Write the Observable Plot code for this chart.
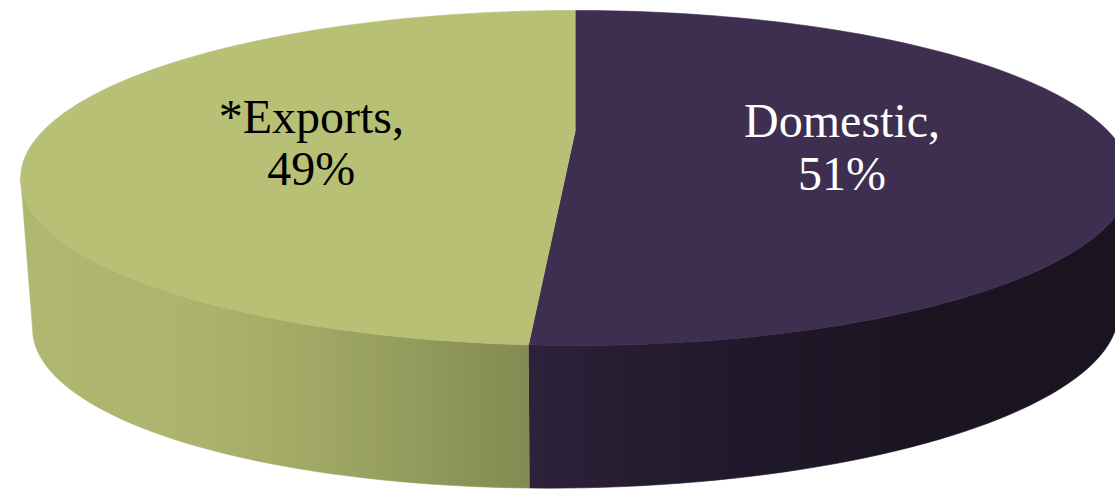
<!DOCTYPE html>
<html>
<head>
<meta charset="utf-8">
<script src="https://cdn.jsdelivr.net/npm/d3@7"></script>
<script src="https://cdn.jsdelivr.net/npm/@observablehq/plot@0.6"></script>
<style>
  html, body { margin: 0; padding: 0; background: #ffffff; overflow: hidden; }
  #chart svg { display: block; }
</style>
</head>
<body>
<div id="chart"></div>
<script>
// ---- data ----
const categories = ["Domestic", "*Exports"];
const shares = [51, 49];

// ---- styles ----
const topColors = ["#3e2e50", "#b7c075"];
const sideGradients = [
  {id: "sideDomestic", from: 528, to: 1115, stops: [[0, "#2d223a"], [0.17, "#271d32"], [0.4, "#1f1829"], [0.65, "#1b1522"], [1, "#1a1420"]]},
  {id: "sideExports", from: 20, to: 528, stops: [[0, "#b0b771"], [0.35, "#acb36c"], [0.55, "#a3aa66"], [0.75, "#959d5e"], [0.88, "#8b9357"], [1, "#838b52"]]}
];
const textColors = ["#ffffff", "#000000"];
const labelFont = "Liberation Serif";

// ---- 3D pie geometry (perspective ellipses) ----
const W = 1115, H = 491;
const geom = {cx: 575, p: 0.29,
  top: {A: 531, B: 153.4, cy: 128.9, k: 0},
  bottom: {A: 519.6, B: 153.4, cy: 271.4, k: 0.015}};

function proj(face, r, th) {
  const f = geom[face];
  const u = r * Math.sin(th), v = r * Math.cos(th);
  const w = 1 + geom.p * v;
  const x = geom.cx + f.A * u / w;
  const y = f.cy - f.B * v / w - f.k * (x - geom.cx);
  return {x, y};
}

const total = d3.sum(shares);
let acc = 0;
const slices = categories.map((c, i) => {
  const a0 = acc / total * 2 * Math.PI;
  acc += shares[i];
  const a1 = acc / total * 2 * Math.PI;
  return {category: c, share: shares[i], a0, a1, i};
});

const N = 240;
function arc(face, a0, a1, r = 1) {
  const pts = [];
  const n = Math.max(2, Math.ceil(N * (a1 - a0) / (2 * Math.PI)));
  for (let j = 0; j <= n; j++) pts.push(proj(face, r, a0 + (a1 - a0) * j / n));
  return pts;
}

// visible side range: between the silhouette tangents
const tangent = Math.acos(-geom.p);
const visLo = tangent, visHi = 2 * Math.PI - tangent;

const topFaces = slices.map(s => {
  const pts = [{x: geom.cx, y: geom.top.cy}, ...arc("top", s.a0, s.a1)];
  return pts.map(p => ({...p, key: s.category}));
});
const sideFaces = slices.map(s => {
  const lo = Math.max(s.a0, visLo), hi = Math.min(s.a1, visHi);
  if (hi <= lo) return [];
  const pts = [...arc("top", lo, hi), ...arc("bottom", lo, hi).reverse()];
  return pts.map(p => ({...p, key: s.category}));
});

const labels = slices.map(s => {
  const mid = (s.a0 + s.a1) / 2;
  const p = proj("top", 0.5, mid);
  return {x: p.x, y: p.y, text: `${s.category},\n${s.share}%`, color: textColors[s.i]};
});

const marks = [];
slices.forEach((s, i) => {
  if (sideFaces[i].length) {
    marks.push(Plot.line(sideFaces[i], {x: "x", y: "y", fill: `url(#${sideGradients[i].id})`, stroke: `url(#${sideGradients[i].id})`, strokeWidth: 0.6, curve: "linear"}));
  }
});
slices.forEach((s, i) => {
  marks.push(Plot.line(topFaces[i], {x: "x", y: "y", fill: topColors[i], stroke: topColors[i], strokeWidth: 0.6, curve: "linear"}));
});
labels.forEach(l => {
  marks.push(Plot.text([l], {x: "x", y: "y", text: "text", fill: l.color, dy: 15,
    fontSize: 48, lineHeight: 1.1, lineAnchor: "middle", textAnchor: "middle",
    fontFamily: labelFont}));
});

const chart = Plot.plot({
  width: W, height: H, margin: 0,
  x: {domain: [0, W], range: [0, W], axis: null},
  y: {domain: [0, H], range: [0, H], axis: null},
  style: {background: "#ffffff", overflow: "hidden"},
  marks
});

const xs = chart.scale("x");
const defs = d3.select(chart).insert("defs", ":first-child");
sideGradients.forEach(g => {
  const lg = defs.append("linearGradient").attr("id", g.id)
    .attr("gradientUnits", "userSpaceOnUse")
    .attr("x1", xs.apply(g.from)).attr("x2", xs.apply(g.to)).attr("y1", 0).attr("y2", 0);
  g.stops.forEach(([o, c]) => lg.append("stop").attr("offset", o).attr("stop-color", c));
});

document.getElementById("chart").appendChild(chart);
</script>
</body>
</html>
